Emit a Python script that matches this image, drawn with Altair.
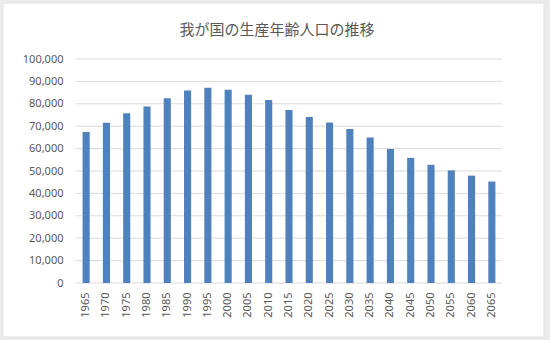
import altair as alt
import pandas as pd

years = ["1965", "1970", "1975", "1980", "1985", "1990", "1995", "2000", "2005", "2010",
         "2015", "2020", "2025", "2030", "2035", "2040", "2045", "2050", "2055", "2060", "2065"]
population = [67444, 71566, 75807, 78835, 82506, 85904, 87165, 86220, 84092, 81735,
              77282, 74058, 71701, 68754, 64942, 59777, 55845, 52750, 50276, 47928, 45291]
y_ticks = [0, 10000, 20000, 30000, 40000, 50000, 60000, 70000, 80000, 90000, 100000]
title_text = "我が国の生産年齢人口の推移"

df = pd.DataFrame({"year": years, "pop": population})
grid_df = pd.DataFrame({"pop": y_ticks})

yscale = alt.Scale(domain=[0, 100000], nice=False)
xscale = alt.Scale(paddingInner=0.65, paddingOuter=0.325)
yaxis = alt.Axis(title=None, values=y_ticks, labelExpr="format(datum.value, ',')",
                 ticks=False, domain=False,
                 grid=False, labelPadding=13, labelFont="Noto Sans", labelFontSize=11,
                 labelColor="#595959", zindex=1)

frame = alt.Chart(df.head(1)).mark_rect(fill="white", stroke="#e0e0e0", strokeWidth=1).encode(
    x=alt.value(-73), x2=alt.value(468), y=alt.value(-56), y2=alt.value(278)
)

title = alt.Chart(df.head(1)).mark_text(
    font="Noto Sans CJK JP", fontSize=15, color="#595959", align="center", baseline="middle"
).encode(x=alt.value(201), y=alt.value(-29), text=alt.value(title_text))

grid = alt.Chart(grid_df).mark_rule(color="#d9d9d9", strokeWidth=1).encode(
    y=alt.Y("pop:Q", scale=yscale, axis=yaxis)
)

bars = alt.Chart(df).mark_bar(color="#4f81bd").encode(
    x=alt.X("year:N", sort=years, scale=xscale,
            axis=alt.Axis(title=None, labelAngle=-90, ticks=False, domain=False,
                          labelPadding=9, labelFont="Noto Sans", labelFontSize=11,
                          labelColor="#595959", zindex=1, grid=False)),
    y=alt.Y("pop:Q", scale=yscale, axis=yaxis),
)

chart = alt.layer(frame, title, grid, bars).properties(
    width=426, height=224,
    background="#ebebeb",
    padding={"left": 76, "top": 59, "right": 48, "bottom": 57},
    autosize=alt.AutoSizeParams(type="none"),
).configure_view(stroke=None)

chart.save("out.html", embed_options={"renderer": "svg", "actions": False})
